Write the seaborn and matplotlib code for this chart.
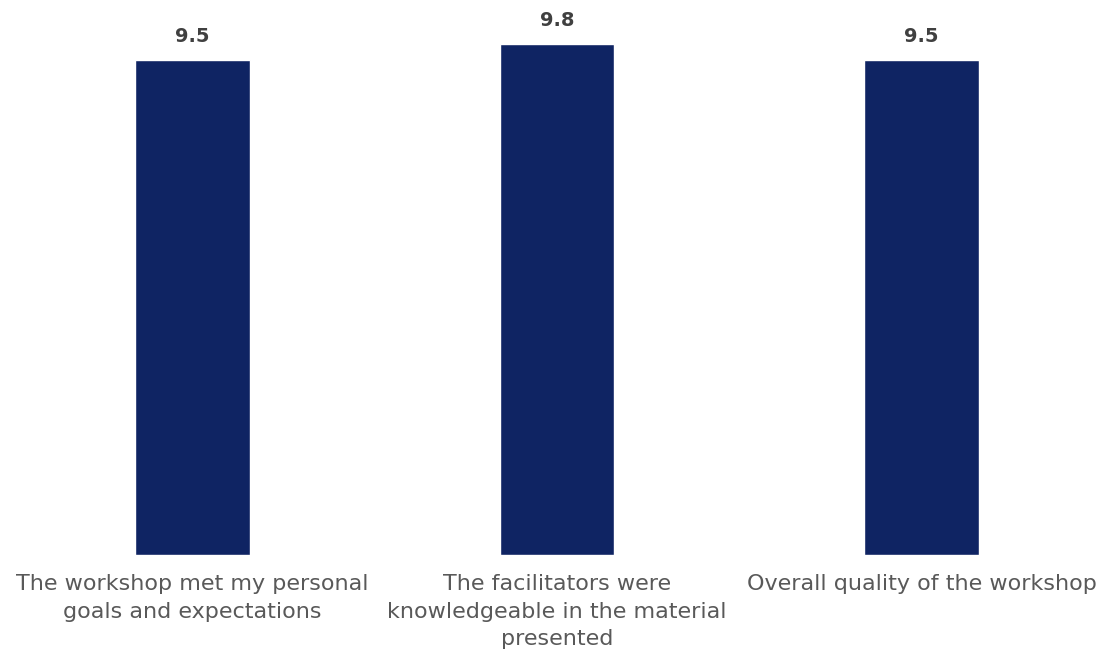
import matplotlib
matplotlib.use("Agg")
import matplotlib.pyplot as plt
import seaborn as sns
import pandas as pd

categories = [
    "The workshop met my personal\ngoals and expectations",
    "The facilitators were\nknowledgeable in the material\npresented",
    "Overall quality of the workshop",
]
scores = [9.5, 9.8, 9.5]

sns.set_theme(style="white")
plt.rcParams["font.family"] = ["DejaVu Sans"]

df = pd.DataFrame({"item": categories, "score": scores})

W, H = 1104, 657
fig = plt.figure(figsize=(W / 100, H / 100), dpi=100)
px_per_unit = 52.15
ymax = 10.5
ax = fig.add_axes([10 / W, 102 / H, (W - 10) / W, ymax * px_per_unit / H])

sns.barplot(data=df, x="item", y="score", color="#0F2463", width=0.315,
            saturation=1, ax=ax)
ax.set_ylim(0, ymax)
ax.set_xlim(-0.5, 2.5)

for c in ax.containers:
    ax.bar_label(c, fmt="%.1f", padding=10, fontsize=14, fontweight="bold",
                 color="#404040")

ax.set_xlabel("")
ax.set_ylabel("")
ax.set_yticks([])
ax.tick_params(axis="x", length=0, pad=14, labelsize=16, labelcolor="#595959")
for lbl in ax.get_xticklabels():
    lbl.set_linespacing(1.45)
for s in ax.spines.values():
    s.set_visible(False)

fig.savefig("out.png", dpi=100)
